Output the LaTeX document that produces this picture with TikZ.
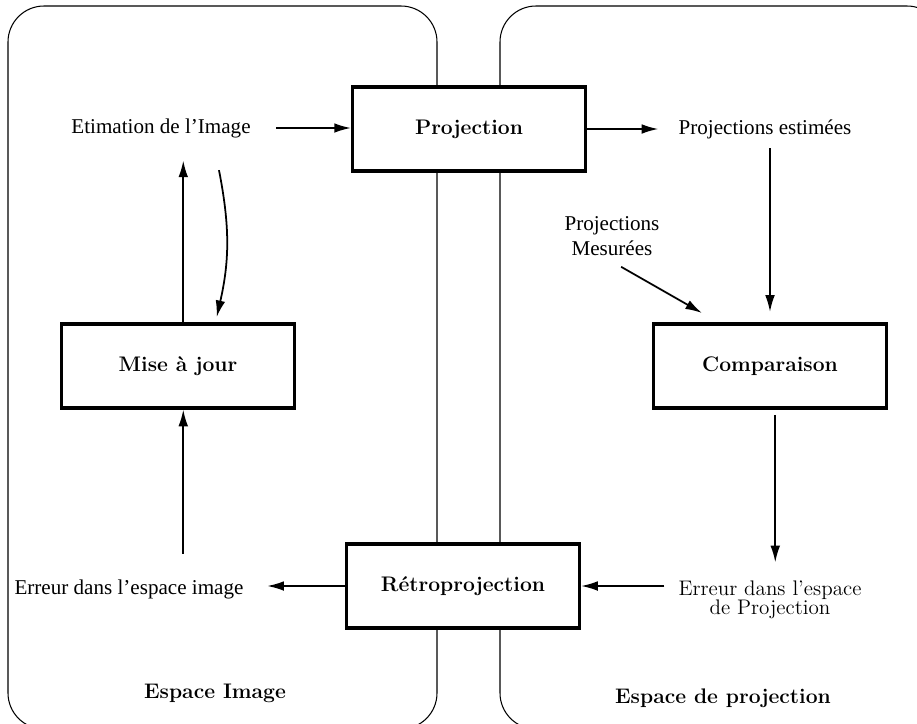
\documentclass[tikz,border=0pt]{standalone}
\usepackage{fontspec}
\newfontfamily\timesfont{Liberation Serif}
\usetikzlibrary{arrows.meta}
\begin{document}
\begin{tikzpicture}[x=0.02cm,y=-0.02cm,
  zone/.style={line width=0.6pt,rounded corners=0.72cm},
  etape/.style={draw,fill=white,line width=1.8pt,minimum width=4.66cm,minimum height=1.68cm,font=\large\bfseries},
  etiq/.style={font=\timesfont\large,align=center},
  fleche/.style={-{Latex[length=9.5pt,width=5.5pt]},line width=1pt}]
\useasboundingbox (0,0) rectangle (917,724);
\clip (0,0) rectangle (917,724);
\draw[zone] (8,6) rectangle (437,729);
\draw[zone] (500,6) rectangle (943,729);
\node[etape] (proj) at (469,129) {Projection};
\node[etape] (mise) at (178,366) {Mise à jour};
\node[etape] (comp) at (770,366) {Comparaison};
\node[etape] (retro) at (463,586) {Rétroprojection};
\node[etiq] (etim) at (161,128) {Etimation de l’Image};
\node[etiq] (est) at (765,129) {Projections estimées};
\node[etiq] (mes) at (612,236) {Projections\\Mesurées};
\node[etiq] (erri) at (129,589) {Erreur dans l’espace image};
\node[font=\large,align=center] (errp) at (770,600) {Erreur dans l’espace\\[-3pt]de Projection};
\node[font=\large\bfseries] (espi) at (215,693) {Espace Image};
\node[font=\large\bfseries] (espp) at (723,698) {Espace de projection};
\coordinate (mesend) at (702,313);
\draw[fleche,shorten <=11pt] (etim.east) -- (etim.east -| proj.west);
\draw[fleche,shorten >=8pt] (proj.east) -- (proj.east -| est.west);
\draw[fleche,shorten <=2pt,shorten >=6pt] (est.south -| comp.north) -- (comp.north);
\draw[fleche,shorten <=6pt] (mes.south) -- (mesend);
\draw[fleche,shorten <=3pt,shorten >=7pt] ([xshift=3pt]comp.south) -- ([xshift=3pt]comp.south |- errp.north);
\draw[fleche,shorten <=4.5pt] (retro.east -| errp.west) -- (retro.east);
\draw[fleche,shorten >=10pt] (retro.west) -- (retro.west -| erri.east);
\draw[fleche,shorten <=11pt] ([xshift=3pt]mise.south |- erri.north) -- ([xshift=3pt]mise.south);
\draw[fleche,shorten >=9.5pt] ([xshift=3pt]mise.north) -- ([xshift=3pt]mise.north |- etim.south);
\draw[fleche] ([xshift=33pt,yshift=-15pt]etim.south) to[bend left=12] ([xshift=22pt,yshift=3pt]mise.north);
\end{tikzpicture}
\end{document}
